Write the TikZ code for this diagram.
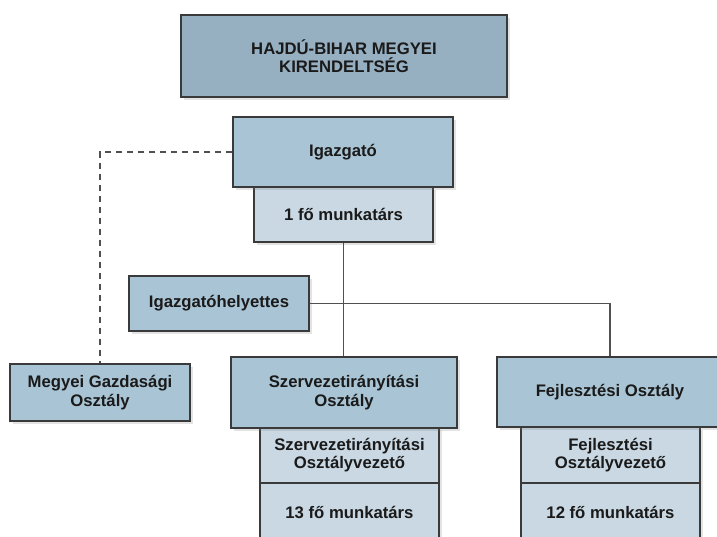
\documentclass[tikz,border=0pt]{standalone}
\usepackage{fontspec}
\setmainfont{Liberation Sans}
\usetikzlibrary{shadows}
\definecolor{topfill}{HTML}{96AFC1}
\definecolor{mainfill}{HTML}{A9C4D4}
\definecolor{subfill}{HTML}{C9D8E3}
\definecolor{edge}{HTML}{3A3A3A}
\definecolor{wire}{HTML}{505050}
\definecolor{txt}{HTML}{1A1A1A}
\tikzset{
  box/.style={draw=edge, line width=1.4pt, rectangle, inner sep=0pt, align=center,
    text=txt, font=\fontsize{16.7}{18.5}\selectfont\bfseries,
    drop shadow={opacity=0.22, shadow xshift=2.5pt, shadow yshift=-2.5pt}},
  topbox/.style={box, fill=topfill},
  mainbox/.style={box, fill=mainfill},
  subbox/.style={box, fill=subfill},
  label/.style={text=txt, font=\fontsize{16.7}{18.5}\selectfont\bfseries},
  wireline/.style={draw=wire, line width=1.1pt},
  dashline/.style={draw=wire, line width=1.3pt, dash pattern=on 6pt off 5pt}
}
\begin{document}
\begin{tikzpicture}[x=1pt, y=-1pt]
\useasboundingbox (0,0) rectangle (717,536);
\clip (0,0) rectangle (717,536);
% sub boxes first
\node[subbox, minimum width=179pt, minimum height=55pt] (m1) at (343.5,214.5) {1 fő munkatárs};
\node[subbox, minimum width=179pt, minimum height=56pt] (ss1) at (349.5,455) {Szervezetirányítási\\Osztályvezető};
\node[subbox, minimum width=179pt, minimum height=62pt] (ss2) at (349.5,514) {};
\node[label] (ss2t) at (349.5,512) {13 fő munkatárs};
\node[subbox, minimum width=179pt, minimum height=56pt] (fs1) at (610.5,455) {Fejlesztési\\Osztályvezető};
\node[subbox, minimum width=179pt, minimum height=62pt] (fs2) at (610.5,514) {};
\node[label] (fs2t) at (610.5,512) {12 fő munkatárs};
% main boxes
\node[topbox, minimum width=326pt, minimum height=82pt] (top) at (344,56) {HAJDÚ-BIHAR MEGYEI\\KIRENDELTSÉG};
\node[mainbox, minimum width=220pt, minimum height=70pt] (igaz) at (343,152) {Igazgató};
\node[mainbox, minimum width=180pt, minimum height=55pt] (hely) at (219,303.5) {Igazgatóhelyettes};
\node[mainbox, minimum width=180pt, minimum height=57pt] (megy) at (100,392.5) {Megyei Gazdasági\\Osztály};
\node[mainbox, minimum width=226pt, minimum height=71pt] (szerv) at (344,392.5) {Szervezetirányítási\\Osztály};
\node[mainbox, minimum width=226pt, minimum height=70pt] (fejl) at (610,392) {Fejlesztési Osztály};
% connectors
\draw[wireline] (m1.south) -- (m1.south |- szerv.north);
\draw[wireline] (hely.east) -- (fejl.north |- hely.east) -- (fejl.north);
\draw[dashline] (igaz.west) -- (megy.north |- igaz.west) -- (megy.north);
\end{tikzpicture}
\end{document}
